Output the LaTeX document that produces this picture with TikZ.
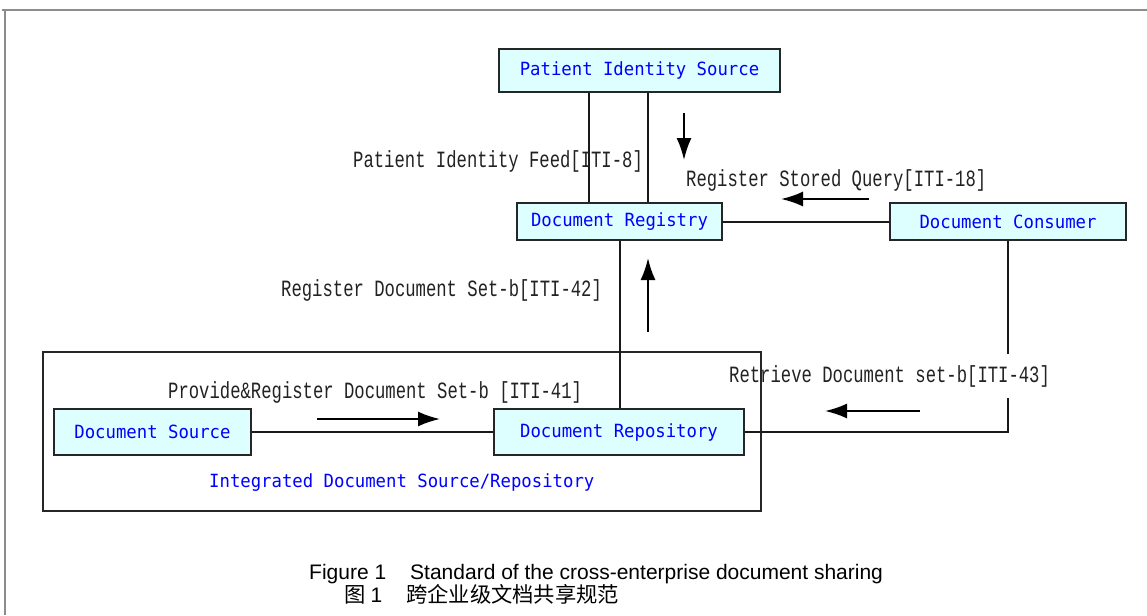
\documentclass[tikz,border=0pt]{standalone}
\usepackage{fontspec}
\setmainfont{Liberation Sans}
\newfontfamily\bluefont[FakeStretch=0.95]{DejaVu Sans Mono}
\newfontfamily\labfont[FakeStretch=0.74]{Liberation Mono}
\newfontfamily\cjkfont{Noto Sans CJK SC}
\usetikzlibrary{arrows.meta}
\definecolor{boxfill}{HTML}{DDFFFF}
\definecolor{framegray}{HTML}{8C8C8C}
\definecolor{labgray}{HTML}{222222}
\tikzset{
  actor/.style={draw=black!85, line width=2.2pt, fill=boxfill, text=blue,
    font=\bluefont\fontsize{18.2}{20}\selectfont, inner sep=0pt},
  groupbox/.style={draw=black!85, line width=2.2pt, inner sep=0pt},
  conn/.style={draw=black!90, line width=2pt},
  flow/.style={draw=black, line width=2pt, -{Latex[length=22pt,width=15pt]}},
  lab/.style={anchor=base west, inner sep=0pt, text=labgray,
    font=\labfont\fontsize{23.3}{25}\selectfont},
  bluelab/.style={anchor=base west, inner sep=0pt, text=blue,
    font=\bluefont\fontsize{18.2}{20}\selectfont},
  captext/.style={anchor=base west, inner sep=0pt, text=black,
    font=\fontsize{21}{23}\selectfont},
}
\begin{document}
\begin{tikzpicture}[x=1pt,y=-1pt]
\useasboundingbox (0,0) rectangle (1147,615);
\fill[white] (0,0) rectangle (1147,615);
% outer frame
\draw[framegray, line width=2.5pt] (2,10) -- (1147,10);
\draw[framegray, line width=2.5pt] (5,10) -- (5,615);

% group box
\node[groupbox, minimum width=718pt, minimum height=159pt] (grp) at (402,431.5) {};

% actors
\node[actor, minimum width=281pt, minimum height=43pt] (pis) at (639.5,70.5) {Patient Identity Source};
\node[actor, minimum width=205pt, minimum height=37pt] (dr) at (619.5,221.5) {Document Registry};
\node[actor, minimum width=236pt, minimum height=37pt] (dc) at (1008,221.5) {Document Consumer};
\node[actor, minimum width=197pt, minimum height=46pt] (ds) at (152.5,432) {Document Source};
\node[actor, minimum width=250pt, minimum height=46pt] (drepo) at (619,432) {Document Repository};

% connectors
\draw[conn] (589,0 |- pis.south) -- (589,0 |- dr.north);
\draw[conn] (648,0 |- pis.south) -- (648,0 |- dr.north);
\draw[conn] (dr.east) -- (dc.west);
\draw[conn] (620,0 |- dr.south) -- (620,0 |- drepo.north);
\draw[conn] (ds.east) -- (drepo.west);
\coordinate (ra) at (1008,354);
\coordinate (rb) at (1008,398);
\draw[conn] (1008,0 |- dc.south) -- (ra);
\draw[conn] (rb) -- (rb |- drepo.east) -- (drepo.east);

% flow arrows
\coordinate (a1s) at (684,113); \coordinate (a1e) at (684,160);
\coordinate (a2s) at (869,199); \coordinate (a2e) at (781,199);
\coordinate (a3s) at (648,332); \coordinate (a3e) at (648,258);
\coordinate (a4s) at (317,419); \coordinate (a4e) at (440,419);
\coordinate (a5s) at (920,411); \coordinate (a5e) at (825,411);
\draw[flow] (a1s) -- (a1e);
\draw[flow] (a2s) -- (a2e);
\draw[flow] (a3s) -- (a3e);
\draw[flow] (a4s) -- (a4e);
\draw[flow] (a5s) -- (a5e);

% labels
\node[lab] (l8) at (353,167) {Patient Identity Feed[ITI-8]};
\node[lab] (l18) at (686,186) {Register Stored Query[ITI-18]};
\node[lab] (l42) at (281,296) {Register Document Set-b[ITI-42]};
\node[lab] (l41) at (168,398) {Provide\&Register Document Set-b [ITI-41]};
\node[lab] (l43) at (729,382) {Retrieve Document set-b[ITI-43]};
\node[bluelab] (lgrp) at (209,487) {Integrated Document Source/Repository};

% caption
\node[captext] (c1) at (309,579) {Figure 1\hspace{24pt}Standard of the cross-enterprise document sharing};
\node[captext] (c2) at (344,602) {{\cjkfont\fontsize{21.3}{23}\selectfont 图}\hspace{5pt}1\hspace{24pt}{\cjkfont\fontsize{21.3}{23}\selectfont 跨企业级文档共享规范}};
\end{tikzpicture}
\end{document}
